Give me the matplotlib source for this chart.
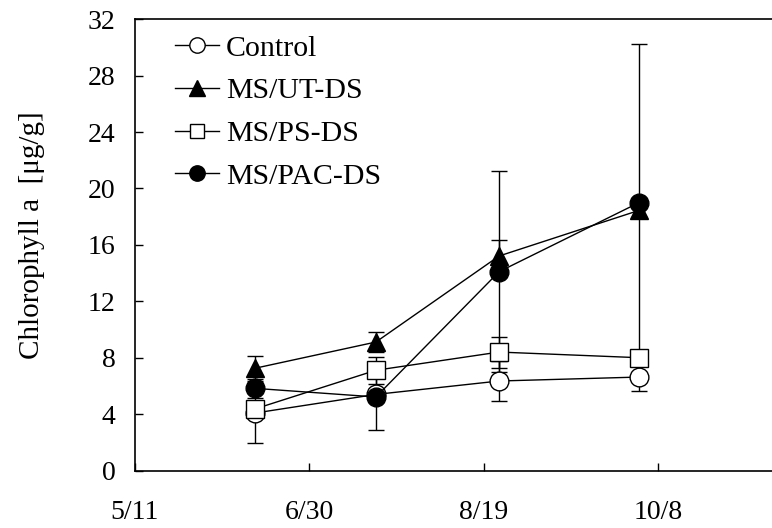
import matplotlib
matplotlib.use("Agg")
import matplotlib.pyplot as plt

plt.rcParams['font.family'] = ['Liberation Serif', 'DejaVu Serif']

# Sampling days counted from 5/11
days = [34.4, 69.1, 104.4, 144.5]

series_names = ["Control", "MS/UT-DS", "MS/PS-DS", "MS/PAC-DS"]
control = [4.1, 5.42, 6.37, 6.65]
control_err = [2.13, 0.4, 1.39, 0.96]
ut_ds = [7.27, 9.13, 15.22, 18.45]
ut_ds_err = [0.87, 0.73, 1.13, 0.5]
ps_ds = [4.39, 7.13, 8.42, 8.02]
ps_ds_err = [0.4, 0.96, 1.1, 0.4]
pac_ds = [5.85, 5.24, 14.11, 19.0]
pac_ds_err = [0.68, 2.34, 7.13, 11.25]

tick_days = [0, 50, 100, 150]
tick_labels = ["5/11", "6/30", "8/19", "10/8"]
y_ticks = list(range(0, 33, 4))

values = [control, ut_ds, ps_ds, pac_ds]
errors = [control_err, ut_ds_err, ps_ds_err, pac_ds_err]
markers = ["o", "^", "s", "o"]
faces = ["white", "black", "white", "black"]
sizes = [13.5, 13.5, 13, 13.5]

fig = plt.figure(figsize=(7.72, 5.28), dpi=100)
ax = fig.add_axes([0.1746, 0.108, 0.904, 0.856])

# error bars sit underneath every marker
for vals, errs in zip(values, errors):
    ax.errorbar(days, vals, yerr=errs, fmt='none', ecolor='black',
                elinewidth=1.0, capsize=5.5, capthick=1.0, zorder=1)

handles = []
for i, (name, vals) in enumerate(zip(series_names, values)):
    ln, = ax.plot(days, vals, color='black', linewidth=1.0,
                  marker=markers[i], markersize=sizes[i],
                  markerfacecolor=faces[i], markeredgecolor='black',
                  markeredgewidth=1.0, zorder=2 + i, label=name)
    handles.append(ln)

ax.set_xlim(0, 200)
ax.set_ylim(0, 32)
ax.set_xticks(tick_days)
ax.set_xticklabels(tick_labels)
ax.set_yticks(y_ticks)

ax.tick_params(axis='both', direction='in', length=6, width=1.0,
               labelsize=20, colors='black')
ax.tick_params(axis='x', pad=21)
ax.tick_params(axis='y', pad=14)
for sp in ax.spines.values():
    sp.set_linewidth(1.2)

ax.set_ylabel("Chlorophyll a  [\u03bcg/g]", fontsize=21, va='center')
ax.yaxis.set_label_coords(-0.147, 0.522)

ax.legend(handles=handles, loc='upper left', bbox_to_anchor=(0.057, 0.965),
          frameon=False, fontsize=21.5, handlelength=1.5, handletextpad=0.22,
          labelspacing=0.53, borderpad=0, borderaxespad=0, numpoints=1,
          markerscale=0.82)

fig.savefig("out.png", dpi=100)
